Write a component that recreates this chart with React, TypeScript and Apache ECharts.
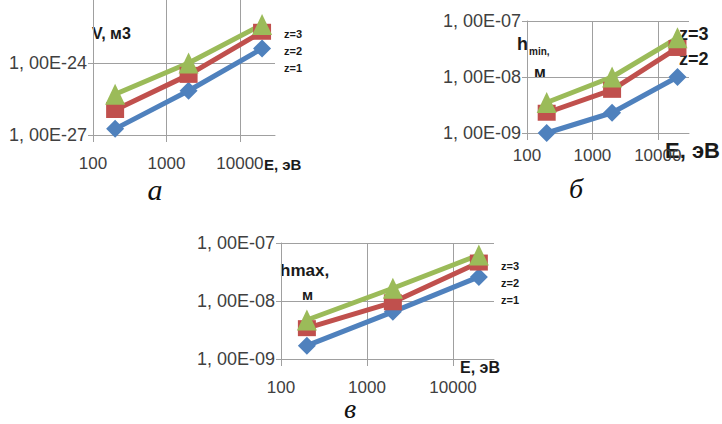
import { useEffect, useRef } from "react";
import * as echarts from "echarts";

// Energy values at which every quantity was computed, eV
const energies = [200, 2000, 20000];
const xTickValues = [100, 1000, 10000];

// Panel а: volume V, м3
const volZ1 = [1.8e-27, 7.0e-26, 4.0e-24];
const volZ2 = [1.1e-26, 3.2e-25, 2.0e-23];
const volZ3 = [5.0e-26, 1.0e-24, 4.0e-23];
// powers of ten shown on the V axis (every third decade)
const volTickExponents = [-27, -24];
const volExpMin = -27;
const volExpMax = -21.375;

// Panel б: h_min, м
const hMinZ1 = [1.0e-9, 2.3e-9, 1.0e-8];
const hMinZ2 = [2.3e-9, 5.9e-9, 3.3e-8];
const hMinZ3 = [3.5e-9, 1.0e-8, 5.0e-8];

// Panel в: hmax, м
const hMaxZ1 = [1.7e-9, 6.5e-9, 2.6e-8];
const hMaxZ2 = [3.4e-9, 9.5e-9, 4.6e-8];
const hMaxZ3 = [4.7e-9, 1.66e-8, 6.2e-8];
const hTickValues = [1e-9, 1e-8, 1e-7];

const seriesNames = ["z=1", "z=2", "z=3"];
const legendOrder = ["z=3", "z=2", "z=1"];

const COLORS = ["#4F81BD", "#C0504D", "#9BBB59"];
const SYMBOLS = ["diamond", "rect", "triangle"];
const SYMBOL_SIZES = [
  [18, 18],
  [18, 16],
  [20, 21],
];
const GRID_COLOR = "#a0a0a0";
const LABEL_COLOR = "#404040";
const SANS = "'Liberation Sans', Arial, sans-serif";
const SERIF = "'Liberation Serif', 'Times New Roman', serif";

const expLabel = (e: number) => {
  const digits = String(Math.abs(e)).padStart(2, "0");
  return `1, 00E${e < 0 ? "-" : "+"}${digits}`;
};
const sciLabel = (v: number) => expLabel(Math.round(Math.log10(v)));

function xAxisFor(gridIndex: number, margin: number) {
  return {
    type: "log",
    logBase: 10,
    gridIndex,
    min: 100,
    max: 30000,
    axisLine: { show: true, lineStyle: { color: GRID_COLOR, width: 1 } },
    axisTick: {
      show: true,
      length: 7,
      customValues: xTickValues,
      lineStyle: { color: GRID_COLOR },
    },
    axisLabel: {
      customValues: xTickValues,
      margin,
      fontSize: 17,
      color: LABEL_COLOR,
      fontFamily: SANS,
      formatter: (v: number) => String(Math.round(v)),
    },
    splitLine: { show: true, lineStyle: { color: GRID_COLOR, width: 1 } },
    minorTick: { show: false },
    minorSplitLine: { show: false },
  };
}

const yCommon = {
  axisLine: { show: true, lineStyle: { color: GRID_COLOR, width: 1 } },
  splitLine: { show: true, lineStyle: { color: GRID_COLOR, width: 1 } },
  minorTick: { show: false },
  minorSplitLine: { show: false },
};
const yLabelStyle = {
  margin: 6,
  fontSize: 18,
  color: LABEL_COLOR,
  fontFamily: SANS,
};

// Log axis for the h panels
function yLogAxis(gridIndex: number) {
  return {
    ...yCommon,
    type: "log",
    logBase: 10,
    gridIndex,
    min: 1e-9,
    max: 1e-7,
    axisTick: {
      show: true,
      length: 5,
      customValues: hTickValues,
      lineStyle: { color: GRID_COLOR },
    },
    axisLabel: { ...yLabelStyle, customValues: hTickValues, formatter: sciLabel },
  };
}

// The V panel spans ~1e-27 m3; its axis runs on decimal exponents
function yExponentAxis(gridIndex: number) {
  return {
    ...yCommon,
    type: "value",
    gridIndex,
    min: volExpMin,
    max: volExpMax,
    axisTick: {
      show: true,
      length: 5,
      customValues: volTickExponents,
      lineStyle: { color: GRID_COLOR },
    },
    axisLabel: {
      ...yLabelStyle,
      customValues: volTickExponents,
      formatter: (e: number) => expLabel(Math.round(e)),
    },
  };
}

function panelSeries(
  gridIndex: number,
  groups: number[][],
  mapY: (v: number) => number = (v) => v
) {
  return groups.map((values, k) => ({
    type: "line",
    name: seriesNames[k],
    xAxisIndex: gridIndex,
    yAxisIndex: gridIndex,
    data: energies.map((e, i) => [e, mapY(values[i])]),
    symbol: SYMBOLS[k],
    symbolSize: SYMBOL_SIZES[k],
    showAllSymbol: true,
    clip: false,
    lineStyle: { color: COLORS[k], width: 5 },
    itemStyle: { color: COLORS[k] },
    emphasis: { disabled: true },
  }));
}

function text(
  x: number,
  y: number,
  content: string,
  size: number,
  opts: Record<string, unknown> = {}
) {
  return {
    type: "text",
    x,
    y,
    silent: true,
    style: {
      text: content,
      fontSize: size,
      fontFamily: SANS,
      fontWeight: "bold",
      fill: "#1a1a1a",
      align: "left",
      verticalAlign: "middle",
      ...opts,
    },
  };
}

const panelLetter = (x: number, y: number, letter: string, size: number) =>
  text(x, y, letter, size, {
    fontFamily: SERIF,
    fontWeight: "normal",
    fontStyle: "italic",
    align: "center",
    fill: "#111",
  });

export default function App() {
  const ref = useRef<HTMLDivElement>(null);

  useEffect(() => {
    if (!ref.current) return;
    const chart = echarts.init(ref.current, undefined, { renderer: "svg" });

    const legendSmall = (x: number, y0: number, step: number, size: number) =>
      legendOrder.map((name, i) => text(x, y0 + i * step, name, size));

    chart.setOption({
      animation: false,
      backgroundColor: "#ffffff",
      grid: [
        { left: 93, top: 0, width: 182, height: 135 },
        { left: 527, top: 21, width: 162, height: 112 },
        { left: 281, top: 243, width: 213, height: 116 },
      ],
      xAxis: [xAxisFor(0, 20), xAxisFor(1, 14), xAxisFor(2, 20)],
      yAxis: [yExponentAxis(0), yLogAxis(1), yLogAxis(2)],
      series: [
        ...panelSeries(0, [volZ1, volZ2, volZ3], Math.log10),
        ...panelSeries(1, [hMinZ1, hMinZ2, hMinZ3]),
        ...panelSeries(2, [hMaxZ1, hMaxZ2, hMaxZ3]),
      ],
      graphic: [
        // panel а
        text(92, 33, "V, м3", 16),
        text(264, 164, "E, эВ", 15),
        ...legendSmall(284, 34, 17, 11),
        panelLetter(155, 189, "а", 30),
        // panel б
        text(517, 44, "h", 18),
        text(529, 51, "min,", 10),
        text(534, 72, "м", 16),
        text(665, 150, "E, эВ", 22),
        text(679, 34, "z=3", 18),
        text(679, 59, "z=2", 18),
        panelLetter(576, 188, "б", 28),
        // panel в
        text(280, 270, "hmax,", 17),
        text(302, 294, "м", 15),
        text(460, 367, "E, эВ", 16),
        ...legendSmall(501, 266, 17, 11),
        panelLetter(350, 408, "в", 28),
      ],
    });

    return () => chart.dispose();
  }, []);

  return (
    <div
      ref={ref}
      style={{
        position: "absolute",
        left: 0,
        top: 0,
        width: 722,
        height: 424,
        background: "#fff",
      }}
    />
  );
}
